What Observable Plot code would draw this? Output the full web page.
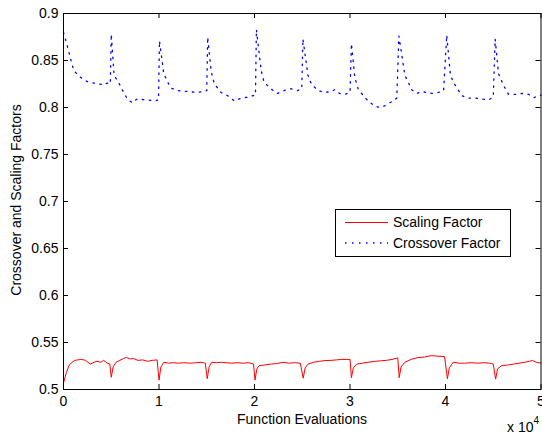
<!DOCTYPE html>
<html><head><meta charset="utf-8">
<script src="https://cdn.jsdelivr.net/npm/d3@7"></script>
<script src="https://cdn.jsdelivr.net/npm/@observablehq/plot@0.6"></script>
<style>body{margin:0;background:#fff} svg{display:block}</style>
</head><body><div id="chart"></div>
<script>
const xTicks = [0, 10000, 20000, 30000, 40000, 50000];
const xTickLabels = ["0", "1", "2", "3", "4", "5"];
const yTicks = [0.5, 0.55, 0.6, 0.65, 0.7, 0.75, 0.8, 0.85, 0.9];
const yTickLabels = ["0.5", "0.55", "0.6", "0.65", "0.7", "0.75", "0.8", "0.85", "0.9"];
const seriesNames = ["Scaling Factor", "Crossover Factor"];

const crossoverEvals = [
  0, 385, 735, 1085, 1785, 2485, 3185, 4235, 4600, 4900,
  5000, 5300, 5700, 6300, 6700, 7200, 7700, 8800, 9600, 9950,
  10050, 10500, 11200, 11900, 13000, 14000, 14700, 15000,
  15100, 15450, 15800, 16500, 17200, 17900, 18600, 19300, 19800, 20100,
  20200, 20700, 21000, 21700, 22400, 23100, 23800, 24500, 24950,
  25070, 25600, 25950, 26650, 27350, 28050, 28400, 28900, 29450, 30000,
  30150, 30500, 30850, 31400, 31900, 32600, 33100, 33650, 34350, 34900,
  35120, 35750, 36100, 36450, 37000, 37500, 38000, 38550, 39250, 39800,
  40130, 40500, 40800, 41200, 41700, 42400, 43100, 43800, 44500, 45000,
  45200, 45550, 46100, 46600, 47300, 48000, 48700, 49250, 49750, 50000
];
const crossoverValues = [
  0.880, 0.866, 0.852, 0.839, 0.832, 0.8275, 0.826, 0.824, 0.826, 0.825,
  0.878, 0.834, 0.828, 0.816, 0.809, 0.805, 0.809, 0.808, 0.807, 0.808,
  0.871, 0.836, 0.821, 0.818, 0.817, 0.816, 0.817, 0.818,
  0.875, 0.839, 0.825, 0.816, 0.8125, 0.807, 0.810, 0.811, 0.8125, 0.813,
  0.883, 0.839, 0.827, 0.820, 0.815, 0.818, 0.820, 0.818, 0.820,
  0.873, 0.834, 0.825, 0.818, 0.816, 0.817, 0.819, 0.815, 0.814, 0.816,
  0.868, 0.832, 0.820, 0.8125, 0.807, 0.8015, 0.800, 0.802, 0.806, 0.810,
  0.876, 0.834, 0.827, 0.819, 0.815, 0.817, 0.816, 0.815, 0.816, 0.818,
  0.877, 0.836, 0.827, 0.821, 0.8125, 0.810, 0.810, 0.809, 0.808, 0.811,
  0.873, 0.836, 0.823, 0.814, 0.814, 0.815, 0.814, 0.8105, 0.8125, 0.813
];

const scalingEvals = [
  0, 300, 600, 900, 1200, 1500, 1900, 2300, 2800, 3200, 3500, 3900, 4200, 4600, 4850,
  5000, 5200, 5500, 5900, 6300, 6600, 7000, 7300, 7800, 8300, 8800, 9300, 9800,
  10000, 10200, 10500, 11000, 11500, 12000, 12600, 13300, 13900, 14400, 14850,
  15050, 15250, 15500, 16000, 16500, 17000, 17600, 18200, 18800, 19400, 19900,
  20050, 20250, 20500, 21000, 21700, 22300, 23000, 23600, 24200, 24800,
  25100, 25300, 25600, 26200, 26800, 27400, 28000, 28600, 29100, 29600, 30000,
  30150, 30350, 30700, 31300, 31900, 32600, 33200, 33800, 34400, 35000,
  35150, 35350, 35750, 36400, 37100, 37800, 38500, 39200, 39900,
  40200, 40400, 40800, 41400, 42000, 42700, 43400, 44000, 44600, 45000,
  45250, 45450, 45900, 46500, 47100, 47700, 48300, 48800, 49100, 49500, 50000
];
const scalingValues = [
  0.507, 0.518, 0.526, 0.529, 0.531, 0.5315, 0.532, 0.531, 0.527, 0.529, 0.530, 0.529, 0.531, 0.528, 0.527,
  0.513, 0.524, 0.529, 0.531, 0.533, 0.534, 0.5325, 0.533, 0.531, 0.5315, 0.530, 0.531, 0.5315,
  0.510, 0.524, 0.529, 0.528, 0.5285, 0.528, 0.5285, 0.528, 0.5285, 0.529, 0.528,
  0.5115, 0.524, 0.529, 0.5285, 0.529, 0.5285, 0.528, 0.5285, 0.528, 0.5285, 0.527,
  0.510, 0.522, 0.5255, 0.526, 0.527, 0.5275, 0.529, 0.528, 0.5285, 0.528,
  0.512, 0.523, 0.527, 0.529, 0.530, 0.5308, 0.531, 0.5315, 0.532, 0.532, 0.532,
  0.5126, 0.523, 0.527, 0.528, 0.529, 0.530, 0.5305, 0.531, 0.532, 0.5336,
  0.5126, 0.524, 0.529, 0.532, 0.534, 0.5345, 0.536, 0.5355, 0.535,
  0.5115, 0.523, 0.529, 0.528, 0.528, 0.5285, 0.528, 0.5285, 0.528, 0.527,
  0.511, 0.522, 0.5255, 0.526, 0.527, 0.528, 0.529, 0.530, 0.531, 0.529, 0.528
];

const crossover = crossoverEvals.map((x, i) => ({x, y: crossoverValues[i]}));
const scaling = scalingEvals.map((x, i) => ({x, y: scalingValues[i]}));

const W = 542, H = 434, ML = 63, MR = 1.5, MT = 13, MB = 45;
const plotW = W - ML - MR, plotH = H - MT - MB;
const TICK = 5;
const FS = 14;
const font = "'Liberation Sans', Arial, Helvetica, sans-serif";

const chart = Plot.plot({
  width: W, height: H,
  marginLeft: ML, marginRight: MR, marginTop: MT, marginBottom: MB,
  x: {domain: [0, 50000]},
  y: {domain: [0.5, 0.9]},
  style: {fontFamily: font, fontSize: FS + "px", color: "black", background: "white"},
  marks: [
    Plot.line(scaling, {x: "x", y: "y", stroke: "#ff0000", strokeWidth: 1}),
    Plot.line(crossover, {x: "x", y: "y", stroke: "#0000ff", strokeWidth: 1.3, strokeDasharray: "1.5,5.5"}),
    Plot.tickX(xTicks, {x: d => d, insetTop: plotH - TICK, stroke: "black"}),
    Plot.tickX(xTicks, {x: d => d, insetBottom: plotH - TICK, stroke: "black"}),
    Plot.tickY(yTicks, {y: d => d, insetRight: plotW - TICK, stroke: "black"}),
    Plot.tickY(yTicks, {y: d => d, insetLeft: plotW - TICK, stroke: "black"}),
    Plot.frame({stroke: "black"}),
    Plot.axisX(xTicks, {tickSize: 0, tickPadding: 7, tickFormat: d => xTickLabels[xTicks.indexOf(d)], label: null, fontSize: FS}),
    Plot.axisY(yTicks, {tickSize: 0, tickPadding: 5, tickFormat: d => yTickLabels[yTicks.indexOf(d)], label: null, fontSize: FS})
  ]
});

document.getElementById("chart").appendChild(chart);

const svg = d3.select(chart);
// axis titles
svg.append("text")
  .attr("x", 302).attr("y", 424)
  .attr("text-anchor", "middle")
  .attr("font-family", font).attr("font-size", FS).attr("fill", "black")
  .text("Function Evaluations");
svg.append("text")
  .attr("transform", "translate(21,200) rotate(-90)")
  .attr("text-anchor", "middle")
  .attr("font-family", font).attr("font-size", FS).attr("fill", "black")
  .text("Crossover and Scaling Factors");
const exp = svg.append("text")
  .attr("x", 507).attr("y", 432)
  .attr("text-anchor", "start")
  .attr("font-family", font).attr("font-size", FS).attr("fill", "black");
exp.append("tspan").text("x 10");
exp.append("tspan").attr("dy", -8).attr("font-size", 10).text("4");

// legend
const lg = svg.append("g");
lg.append("rect").attr("x", 335.5).attr("y", 209.5).attr("width", 175).attr("height", 47)
  .attr("fill", "white").attr("stroke", "black");
const rows = [
  {name: seriesNames[0], color: "#ff0000", dash: null, width: 1, y: 222.5},
  {name: seriesNames[1], color: "#0000ff", dash: "1.5,5.5", width: 1.3, y: 243}
];
rows.forEach(r => {
  const ln = lg.append("line").attr("x1", 345).attr("x2", 388).attr("y1", r.y).attr("y2", r.y)
    .attr("stroke", r.color).attr("stroke-width", r.width);
  if (r.dash) ln.attr("stroke-dasharray", r.dash);
  lg.append("text").attr("x", 393).attr("y", r.y).attr("dy", "0.35em")
    .attr("text-anchor", "start")
    .attr("font-family", font).attr("font-size", FS).attr("fill", "black").text(r.name);
});
</script>
</body></html>
